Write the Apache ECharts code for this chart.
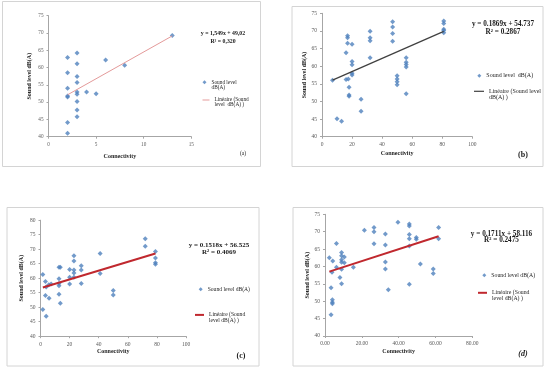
<!DOCTYPE html>
<html><head><meta charset="utf-8">
<script src="https://cdn.jsdelivr.net/npm/echarts@6/dist/echarts.min.js"></script>
<style>html,body{margin:0;padding:0;background:#fff}#c{width:550px;height:372px}</style>
</head><body><div id="c"></div>
<script>
// ---- data ----
const aX = [2,2,2,2,2,2,2, 3,3,3,3,3,3,3,3,3, 4,5,6,8,13];
const aY = [62.9,58.5,54.0,51.8,51.5,44.1,41.0, 64.2,61.1,57.4,55.7,52.9,52.3,50.2,47.7,45.8, 52.9,52.4,62.2,60.7,69.3];

const bX = [7,10,13,16,16,17,17,17,17.5,18,18,18,20,20,20,20,20,26,26,32,32,32,32,47,47,47,47,50,50,50,50,56,56,56,56,56,81,81,81,81,81];
const bY = [56.0,45.1,44.4,63.8,56.2,68.6,68.1,66.5,56.4,54.0,51.8,51.5,66.2,61.3,60.4,58.0,57.5,50.6,47.2,69.9,68.1,67.2,62.4,72.6,71.1,69.3,67.1,57.3,56.4,55.6,54.7,62.4,61.1,60.5,59.8,52.2,72.8,72.1,70.5,70.1,69.5];

const cX = [1.6,1.6,3.4,3.4,3.9,3.9,5.7,5.9,7.3,12.7,13.6,12.7,12.7,12.7,12.7,13.6,20,20,20,23,23,23,23,23,28,28,28,41,41,50,50,72,72,79,79,79,79];
const cY = [61.3,49.2,58.9,54.0,46.9,57.0,57.7,53.1,58.0,63.8,63.8,59.8,58.2,57.4,54.5,51.4,63.0,60.3,58.0,67.7,65.9,62.8,61.8,60.3,64.3,62.8,58.2,68.5,61.6,55.8,54.2,73.6,71.0,69.2,67.0,65.3,64.8];

const dX = [2.35,3.3,3.3,4.2,3.8,4,4,4,6.2,6.2,8.1,9,9,9,9,9,9,10.5,10.5,15.4,21.4,26.6,26.6,26.6,32.8,32.8,32.8,32.8,34.4,39.6,45.8,45.8,45.8,45.8,45.8,45.8,49.6,49.6,51.8,58.8,58.8,61.7,61.7];
const dY = [62.5,53.9,46.1,61.6,58.3,50.4,49.7,49.3,66.6,59.8,56.8,64.0,63.1,61.9,61.2,59.2,55.0,62.7,61.1,59.8,70.4,71.2,70.0,66.5,69.3,66.2,61.3,59.3,53.3,72.7,72.2,71.6,69.2,68.0,65.9,54.9,68.3,67.8,60.7,59.3,58.0,71.2,68.0];

// linear trend: [slope, intercept]
const trendA = [1.549, 49.02];
const trendB = [0.1869, 54.737];
const trendC = [0.1518, 56.525];
const trendD = [0.1711, 58.116];

const eqA = ['y = 1,549x + 49,02', 'R² = 0,320'];
const eqB = ['y = 0.1869x + 54.737', 'R² = 0.2867'];
const eqC = ['y = 0.1518x + 56.525', 'R² = 0.4069'];
const eqD = ['y = 0.1711x + 58.116', 'R² = 0.2475'];

const panelLabels = ['(a)', '(b)', '(c)', '(d)'];
// axis ranges [min, max, interval]
const xRanges = [[0,15,5],[0,100,20],[0,100,20],[0,80,20]];
const yRanges = [[40,75,5],[40,75,5],[40,80,5],[40,75,5]];

const xTitle = 'Connectivity';
const yTitle = 'Sound level dB(A)';
const scatterNames = ['a_s','b_s','c_s','d_s'];
const lineNames = ['a_l','b_l','c_l','d_l'];
const legendText = {
  a_s: '\nSound level\ndB(A)',
  a_l: '\nLinéaire (Sound\nlevel  dB(A) )',
  b_s: 'Sound level  dB(A)',
  b_l: '\nLinéaire (Sound level\ndB(A) )',
  c_s: 'Sound level dB(A)',
  c_l: '\nLinéaire (Sound\nlevel dB(A) )',
  d_s: 'Sound level dB(A)',
  d_l: '\nLinéaire (Sound\nlevel dB(A) )'
};

// ---- layout ----
const FONT = 'Liberation Serif';
const grids = [
  {left:48.5, top:15.7, width:142.8, height:121},
  {left:322, top:13.3, width:150.3, height:123.4},
  {left:40.5, top:220.2, width:145.5, height:116},
  {left:325, top:214.3, width:147.3, height:121.7}
];
const xNameGap = [17, 13.5, 12, 12];
const yNameGap = [16, 14.5, 16, 13];
const tickFont = [5.2, 5.5, 5.5, 5.5];
const lineColors = ['#e49a9a', '#404040', '#c0282e', '#c0282e'];
const lineWidths = [1, 1.2, 2, 2];
const xFmt = [null, null, null, v => v.toFixed(2)];

const allX = [aX,bX,cX,dX], allY = [aY,bY,cY,dY], trends = [trendA,trendB,trendC,trendD];

const xAxes = [], yAxes = [], series = [];
for (let i = 0; i < 4; i++) {
  const axisLineStyle = {color:'#a6a6a6', width:1};
  xAxes.push({
    gridIndex:i, type:'value', min:xRanges[i][0], max:xRanges[i][1], interval:xRanges[i][2],
    axisLine:{show:true, onZero:false, lineStyle:axisLineStyle},
    axisTick:{show:true, length:2, lineStyle:axisLineStyle},
    splitLine:{show:false},
    axisLabel:{fontFamily:FONT, fontSize:tickFont[i], color:'#595959', margin:5, formatter:xFmt[i] || undefined},
    name:xTitle, nameLocation:'middle', nameGap:xNameGap[i],
    nameTextStyle:{fontFamily:FONT, fontWeight:'bold', fontSize:6, color:'#262626'}
  });
  yAxes.push({
    gridIndex:i, type:'value', min:yRanges[i][0], max:yRanges[i][1], interval:yRanges[i][2],
    axisLine:{show:true, onZero:false, lineStyle:axisLineStyle},
    axisTick:{show:true, length:2, lineStyle:axisLineStyle},
    splitLine:{show:false},
    axisLabel:{fontFamily:FONT, fontSize:tickFont[i], color:'#595959', margin:5},
    name:yTitle, nameLocation:'middle', nameGap:yNameGap[i], nameRotate:90,
    nameTextStyle:{fontFamily:FONT, fontWeight:'bold', fontSize:6, color:'#262626'}
  });
  const xs = allX[i], ys = allY[i];
  series.push({
    name:scatterNames[i], type:'scatter', xAxisIndex:i, yAxisIndex:i,
    symbol:'diamond', symbolSize:5,
    itemStyle:{color:'#4f81bd'},
    data: xs.map((x, k) => [x, ys[k]]),
    silent:true
  });
  const [s, b] = trends[i];
  const x0 = Math.min(...xs), x1 = Math.max(...xs);
  series.push({
    name:lineNames[i], type:'line', xAxisIndex:i, yAxisIndex:i,
    symbol:'none', showSymbol:false,
    lineStyle:{color:lineColors[i], width:lineWidths[i]},
    itemStyle:{color:lineColors[i]},
    data:[[x0, s*x0 + b], [x1, s*x1 + b]],
    silent:true, z:3
  });
}

function leg(name, left, top, iw, ih, fs, lh, icon) {
  const item = icon ? {name:name, icon:icon} : {name:name};
  return {
    data:[item], left:left, top:top, orient:'vertical', padding:0,
    itemWidth:iw, itemHeight:ih, selectedMode:false,
    formatter: n => legendText[n],
    textStyle:{fontFamily:FONT, fontSize:fs, lineHeight:lh, color:'#262626'}
  };
}
const legends = [
  leg('a_s', 202.5, 82.3 - 7.5, 4, 4, 5.3, 5, 'diamond'),
  leg('a_l', 202.5, 100 - 7.5, 7, 1, 5.3, 5, 'rect'),
  leg('b_s', 477.3, 75.7 - 3.5, 4, 4, 6, 7, 'diamond'),
  leg('b_l', 474, 91.3 - 9.75, 10, 1.2, 6, 6.5, 'rect'),
  leg('c_s', 198.7, 289.3 - 3, 4, 4, 5.6, 6, 'diamond'),
  leg('c_l', 195, 314.7 - 8.4, 9, 2, 5.6, 5.6, 'rect'),
  leg('d_s', 482.3, 275.3 - 3, 4, 4, 5.8, 6, 'diamond'),
  leg('d_l', 478, 292.8 - 9, 9, 2, 5.8, 6, 'rect')
];

// frames + equation texts + panel labels
const frames = [[2.5,1.5,258,165],[292,6.5,251,160],[7,207.5,252,158.5],[293,207.5,250,158.5]];
const eqs = [eqA,eqB,eqC,eqD];
const eqPos = [[223,33.5,41.5,5.8],[503,24.5,32.5,7.2],[219,245.5,252.5,7],[501.5,233.7,240.5,7.2]];
const labPos = [[243,154,5.5,'normal','normal'],[523,155,8,'bold','normal'],[241,356,8,'bold','normal'],[523,354.3,8,'bold','italic']];
const graphic = [];
frames.forEach(f => graphic.push({type:'rect', shape:{x:f[0], y:f[1], width:f[2], height:f[3]}, style:{fill:'none', stroke:'#d4d4d4', lineWidth:1}, silent:true, z:-1}));
eqs.forEach((e, i) => {
  const p = eqPos[i];
  graphic.push({type:'text', x:p[0], y:p[1], style:{text:e[0], align:'center', verticalAlign:'middle', font:'bold ' + p[3] + 'px "' + FONT + '"', fill:'#1a1a1a'}, silent:true});
  graphic.push({type:'text', x:p[0], y:p[2], style:{text:e[1], align:'center', verticalAlign:'middle', font:'bold ' + p[3] + 'px "' + FONT + '"', fill:'#1a1a1a'}, silent:true});
});
panelLabels.forEach((t, i) => {
  const p = labPos[i];
  graphic.push({type:'text', x:p[0], y:p[1], style:{text:t, align:'center', verticalAlign:'middle', font:p[4] + ' ' + p[3] + ' ' + p[2] + 'px "' + FONT + '"', fill:'#1a1a1a'}, silent:true});
});

const chart = echarts.init(document.getElementById('c'), null, {renderer:'canvas'});
chart.setOption({
  animation:false,
  backgroundColor:'#ffffff',
  grid: grids.map(g => Object.assign({outerBoundsMode:'none', containLabel:false}, g)),
  xAxis:xAxes, yAxis:yAxes, series:series, legend:legends, graphic:graphic,
  tooltip:{show:false}
});
</script></body></html>
